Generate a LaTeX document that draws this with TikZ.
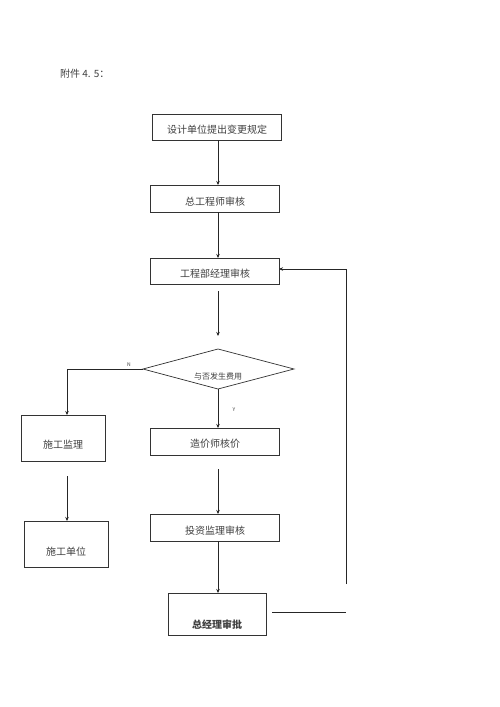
\documentclass[tikz,border=0pt]{standalone}
\usepackage{fontspec}
\setmainfont{Noto Sans CJK SC}
\usetikzlibrary{arrows.meta}
\begin{document}
\begin{tikzpicture}[x=1pt,y=-1pt,
  box/.style={draw=black!80,line width=0.7pt,inner sep=0pt},
  txt/.style={text=black!75,inner sep=0pt,font=\fontsize{10}{12}\selectfont},
  arr/.style={draw=black!85,line width=0.8pt,-{Stealth[length=4pt,width=3.5pt]}},
  ln/.style={draw=black!85,line width=0.8pt}]
\useasboundingbox (0,0) rectangle (500,707);
\fill[white] (0,0) rectangle (500,707);
\node[txt,anchor=west] (title) at (60,74) {附件 4. 5：};
% boxes
\draw[box] (152,114) rectangle (281,140); \coordinate (b1t) at (216.5,140);
\node[txt] (t1) at (217,130) {设计单位提出变更规定};
\draw[box] (150,185) rectangle (279,212);
\node[txt] (t2) at (215,202) {总工程师审核};
\draw[box] (150,258) rectangle (279,284);
\node[txt] (t3) at (215,274) {工程部经理审核};
\draw[box] (150,428) rectangle (279,455);
\node[txt] (t4) at (215,444) {造价师核价};
\draw[box] (150,514) rectangle (279,541);
\node[txt] (t5) at (215,531) {投资监理审核};
\draw[box] (21,415) rectangle (105,461);
\node[txt] (t6) at (63,445) {施工监理};
\draw[box] (24,521) rectangle (108,567);
\node[txt] (t7) at (66,552) {施工单位};
\draw[box] (168,593) rectangle (266,635);
\node[txt,font=\fontsize{10}{12}\selectfont\bfseries] (t8) at (217,625) {总经理审批};
% diamond
\draw[box] (143,369) -- (218,349) -- (294,369) -- (218,389) -- cycle;
\node[txt,font=\fontsize{8}{10}\selectfont] (td) at (218,376) {与否发生费用};
\node[txt,font=\fontsize{5}{6}\selectfont] (lN) at (129,365) {N};
\node[txt,font=\fontsize{5}{6}\selectfont] (lY) at (234,410) {Y};
% connectors
\coordinate (a1) at (218,140); \coordinate (a2) at (218,185);
\draw[arr] (a1) -- (a2);
\coordinate (a3) at (218,212); \coordinate (a4) at (218,258);
\draw[arr] (a3) -- (a4);
\coordinate (a5) at (218,291); \coordinate (a6) at (218,336);
\draw[arr] (a5) -- (a6);
\coordinate (d1) at (143,369); \coordinate (c1) at (67,369); \coordinate (c2) at (67,415);
\draw[arr] (d1) -- (c1) -- (c2);
\coordinate (a7) at (67,476); \coordinate (a8) at (67,521);
\draw[arr] (a7) -- (a8);
\coordinate (d2) at (218,389); \coordinate (a9) at (218,428);
\draw[arr] (d2) -- (a9);
\coordinate (a10) at (218,469); \coordinate (a11) at (218,514);
\draw[arr] (a10) -- (a11);
\coordinate (a12) at (218,541); \coordinate (a13) at (218,593);
\draw[arr] (a12) -- (a13);
\coordinate (r1) at (272,612); \coordinate (r2) at (346,612);
\draw[ln] (r1) -- (r2);
\coordinate (r3) at (346,584); \coordinate (r4) at (346,269); \coordinate (r5) at (279,269);
\draw[arr] (r3) -- (r4) -- (r5);
\end{tikzpicture}
\end{document}
